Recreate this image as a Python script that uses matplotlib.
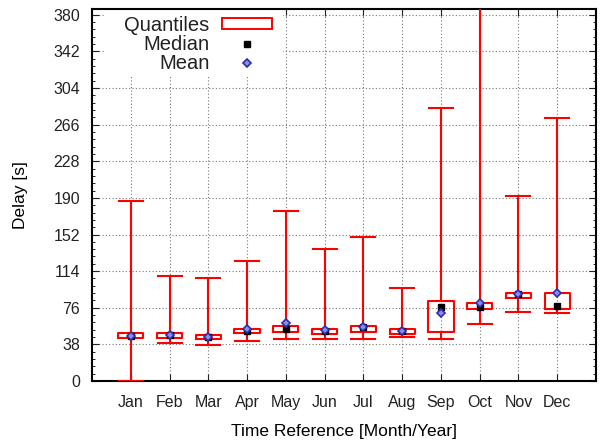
import matplotlib
matplotlib.use("Agg")
import matplotlib.pyplot as plt
from matplotlib.patches import Patch, Rectangle
from matplotlib.lines import Line2D
from matplotlib.ticker import MultipleLocator

months = ['Jan', 'Feb', 'Mar', 'Apr', 'May', 'Jun', 'Jul', 'Aug', 'Sep', 'Oct', 'Nov', 'Dec']
q1 = [44.6, 44.6, 43.3, 49.8, 50.6, 48.8, 50.9, 48.8, 50.9, 74.4, 86.5, 74.4]
q3 = [49.5, 49.5, 48.1, 54.3, 57.4, 54.3, 57.4, 54.3, 83.0, 81.3, 91.7, 91.7]
median = [46.4, 47.4, 46.0, 52.2, 53.7, 52.0, 55.8, 52.0, 77.2, 77.0, 90.3, 77.9]
mean = [46.5, 47.5, 46.0, 53.5, 60.5, 52.5, 56.0, 52.0, 71.0, 81.0, 90.5, 91.0]
whis_lo = [0, 39.8, 37.4, 41.5, 43.3, 43.6, 43.6, 45.5, 44.0, 58.9, 71.3, 70.3]
whis_hi = [187, 109, 107, 124, 176, 137, 149.5, 97, 283, 400, 192.4, 272.7]
yticks = [0, 38, 76, 114, 152, 190, 228, 266, 304, 342, 380]

plt.rcParams['font.family'] = ['Liberation Sans', 'DejaVu Sans']
plt.rcParams['text.color'] = '#222222'

fig = plt.figure(figsize=(6.05, 4.45), dpi=100)
ax = fig.add_axes([92 / 605, 1 - 381 / 445, 504 / 605, 372 / 445])

pos = list(range(1, len(months) + 1))
stats = []
for i in range(len(months)):
    stats.append(dict(med=median[i], q1=q1[i], q3=q3[i],
                      whislo=whis_lo[i], whishi=whis_hi[i], fliers=[]))

red = dict(color='red', linewidth=1.5)
ax.bxp(stats, positions=pos, widths=0.65, capwidths=0.62,
       boxprops=red, whiskerprops=red, capprops=red,
       medianprops=dict(linewidth=0), showfliers=False, zorder=3)

mean_style = dict(marker='D', ms=4, mfc='#8c8cf0', mec='#2e2ea8', mew=1.2)
ax.plot(pos, median, linestyle='none', marker='s', ms=4,
        color='black', zorder=4)
ax.plot(pos, mean, linestyle='none', zorder=5, **mean_style)

ax.set_xlim(0, 13)
ax.set_ylim(0, 386)
ax.set_xticks(pos)
ax.set_xticklabels(months)
ax.set_yticks(yticks)
ax.yaxis.set_minor_locator(MultipleLocator(7.6))

ax.grid(True, which='major', color='#777777', linestyle=(0, (1, 2)), linewidth=0.8)
ax.tick_params(axis='both', which='major', direction='in', length=5,
               labelsize=11.5, right=True, top=True, colors='#222222')
ax.tick_params(axis='x', which='major', pad=10)
ax.tick_params(axis='y', which='major', pad=8.5)
ax.tick_params(axis='y', which='minor', direction='in', length=2.5, right=True)
for s in ax.spines.values():
    s.set_linewidth(1.5)

ax.set_xlabel('Time Reference [Month/Year]', fontsize=12.5, labelpad=10)
ax.set_ylabel('Delay [s]', fontsize=12.5, labelpad=18)

# white key background like gnuplot's opaque key
ax.add_patch(Rectangle((105 / 605, 1 - 77 / 445), 178 / 605, 68 / 445,
                       transform=fig.transFigure, facecolor='white',
                       edgecolor='none', zorder=2, clip_on=False))

handles = [Patch(facecolor='white', edgecolor='red', linewidth=1.4),
           Line2D([], [], linestyle='none', marker='s', ms=4, color='black'),
           Line2D([], [], linestyle='none', **mean_style)]
ax.legend(handles, ['Quantiles', 'Median', 'Mean'], markerfirst=False,
          frameon=False, fontsize=14.5, loc='upper right',
          bbox_to_anchor=(272 / 605, 1 - 16 / 445), bbox_transform=fig.transFigure,
          borderpad=0, borderaxespad=0, handlelength=2.5, handleheight=0.45,
          handletextpad=0.6, labelspacing=0.0)

fig.savefig('out.png', dpi=100)
